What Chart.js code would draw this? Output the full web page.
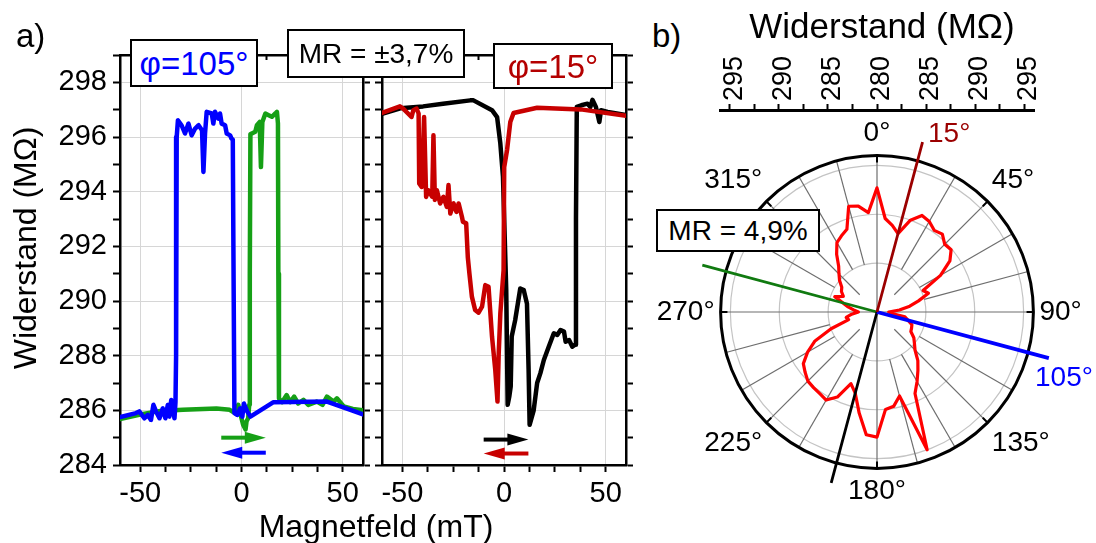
<!DOCTYPE html>
<html>
<head>
<meta charset="utf-8">
<script src="https://cdn.jsdelivr.net/npm/chart.js@4.4.1/dist/chart.umd.min.js"></script>
<style>
  html, body { margin: 0; padding: 0; overflow: hidden; background: #fff; }
  body { position: relative; width: 1096px; height: 543px; font-family: "Liberation Sans", Arial, sans-serif; color: #000; }
  canvas { position: absolute; }
  .txt { position: absolute; white-space: nowrap; line-height: 1; }
  .box { position: absolute; box-sizing: border-box; border: 2.5px solid #000; background: #fff; display: flex; align-items: center; justify-content: center; white-space: nowrap; line-height: 1; }
</style>
</head>
<body>
<canvas id="sweep-105" width="370" height="510" style="left:0;top:0"></canvas>
<canvas id="sweep-15" width="265" height="510" style="left:370px;top:0"></canvas>
<canvas id="polar-top" width="374" height="90" style="left:690px;top:40px"></canvas>
<canvas id="polar" width="530" height="393" style="left:612px;top:116px"></canvas>

<div class="txt" style="left:16px;top:19px;font-size:33px">a)</div>
<div class="txt" style="left:652px;top:19px;font-size:33px">b)</div>
<div class="txt" style="left:-125px;top:232px;width:300px;text-align:center;font-size:32px;transform:rotate(-90deg)">Widerstand (MΩ)</div>
<div class="txt" style="left:226px;top:510px;width:300px;text-align:center;font-size:32px">Magnetfeld (mT)</div>
<div class="txt" style="left:682px;top:8px;width:400px;text-align:center;font-size:35px">Widerstand (MΩ)</div>
<div class="txt" style="left:928px;top:119px;font-size:28px;color:#9b0000">15°</div>
<div class="txt" style="left:1035px;top:363px;font-size:28px;color:#0000ff">105°</div>

<div class="box" style="left:130px;top:39px;width:128px;height:48px;color:#0000ff;font-size:33px">φ=105°</div>
<div class="box" style="left:287px;top:29px;width:178px;height:49px;font-size:28px">MR = ±3,7%</div>
<div class="box" style="left:493px;top:43px;width:120px;height:46px;color:#b40000;font-size:33px">φ=15°</div>
<div class="box" style="left:656px;top:209px;width:164px;height:43px;font-size:28px">MR = 4,9%</div>

<script>
Chart.defaults.font.family = '"Liberation Sans", Arial, sans-serif';
Chart.defaults.color = '#000';

// phi = 105 deg, blue sweep + -> -, green sweep - -> +
const blueField = [60, 53.8, 42.2, 15.8, 4.4, 2.8, 1.2, 0.4, -0.7, -2.0, -3.5, -4.0, -4.3, -5.0, -5.6, -7.3, -8.1, -9.8, -10.6, -11.4, -13.1, -13.9, -14.7, -17.2, -18.0, -18.8, -19.5, -21.2, -22.9, -24.6, -26.2, -27.9, -29.6, -31.4, -32.0, -32.3, -32.6, -33.1, -34.7, -35.6, -36.4, -37.6, -38.9, -40.5, -42.2, -43.5, -44.7, -46.3, -48.0, -50.5, -52.1, -60];
const blueR = [285.85, 286.02, 286.32, 286.3, 285.77, 285.96, 286.25, 285.77, 286.07, 285.83, 285.9, 292.0, 295.9, 295.95, 296.06, 296.13, 296.43, 296.49, 296.86, 296.67, 296.92, 296.49, 296.86, 296.92, 296.13, 294.72, 296.25, 296.43, 296.31, 296.06, 296.49, 296.13, 296.43, 296.61, 296.0, 288.0, 286.3, 285.71, 286.38, 285.77, 286.2, 285.71, 286.07, 285.71, 285.96, 286.2, 285.65, 285.83, 285.71, 285.96, 285.9, 285.75];
const greenField = [-60, -50, -40, -28.9, -12.4, -5.8, -3.3, -1.6, 0, 0.8, 2.0, 2.5, 3.3, 3.8, 4.1, 4.4, 5.1, 6.8, 7.6, 9.0, 9.6, 10.3, 11.8, 13.4, 15.0, 16.7, 17.5, 18.0, 18.2, 18.5, 20.0, 22.3, 24.0, 26.0, 28.0, 30.6, 33.0, 37.2, 40.0, 42.2, 45.5, 47.1, 50.5, 55.0, 60];
const greenR = [285.68, 285.85, 285.98, 286.02, 286.07, 286.02, 285.9, 286.2, 285.71, 285.47, 285.3, 285.6, 285.71, 286.2, 291.0, 296.1, 296.13, 296.19, 296.43, 296.55, 294.9, 296.55, 296.86, 296.8, 296.74, 296.86, 296.92, 296.5, 291.0, 286.44, 286.3, 286.56, 286.3, 286.5, 286.25, 286.38, 286.2, 286.32, 286.2, 286.5, 286.32, 286.44, 286.14, 286.05, 286.0];

// phi = 15 deg, black sweep - -> +, red sweep + -> -
const blackField = [-60, -51, -39.8, -30, -16.6, -15.0, -5.9, -3.4, -1.8, -0.5, 1.1, 1.8, 2.6, 3.3, 3.8, 5.5, 8.0, 9.7, 11.3, 12.1, 12.6, 14.6, 16.3, 17.9, 19.6, 22.0, 24.5, 26.2, 27.8, 29.5, 30.3, 32.0, 33.6, 35.0, 35.4, 35.8, 38.0, 41.1, 42.5, 43.5, 45.2, 46.9, 47.7, 51.0, 60];
const blackR = [296.85, 297.05, 297.12, 297.22, 297.34, 297.34, 296.98, 296.73, 295.76, 294.54, 290.4, 286.2, 286.5, 286.87, 288.7, 289.3, 290.46, 290.4, 289.9, 287.48, 285.47, 286.0, 287.0, 287.36, 287.84, 288.33, 288.82, 288.76, 288.94, 288.88, 288.51, 288.57, 288.33, 288.4, 293.0, 297.1, 297.16, 297.22, 297.1, 297.36, 297.1, 296.55, 296.98, 296.92, 296.8];
const redField = [60, 37.7, 16.3, 4.7, 3.1, 1.5, 0.1, -0.2, -1.8, -2.6, -3.2, -4.3, -5.9, -7.6, -9.2, -10.8, -12.5, -14.2, -15.8, -17.0, -17.8, -18.6, -20.2, -20.7, -22.3, -23.4, -24.8, -26.4, -27.3, -28.1, -29.8, -31.4, -33.0, -34.0, -34.7, -35.3, -37.2, -38.3, -39.3, -40.5, -41.7, -42.0, -43.0, -44.6, -45.5, -47.2, -49.6, -51.2, -60];
const redR = [296.78, 297.01, 297.07, 296.88, 296.55, 295.52, 294.9, 291.13, 289.55, 288.09, 286.32, 287.48, 288.7, 290.52, 290.58, 289.79, 289.57, 289.67, 290.16, 291.0, 291.6, 292.84, 292.9, 293.08, 293.57, 293.26, 293.57, 293.2, 294.24, 293.44, 293.81, 293.57, 294.05, 293.7, 296.06, 293.81, 294.05, 293.81, 296.73, 294.17, 294.3, 296.86, 297.04, 296.98, 296.73, 296.86, 297.04, 297.12, 296.88];

// angle dependence, 5 deg steps, 0 deg on top, clockwise
const polarAngles = [0, 5, 10, 15, 20, 25, 30, 35, 40, 45, 50, 55, 60, 65, 70, 75, 80, 85, 90, 95, 100, 105, 110, 115, 120, 125, 130, 135, 140, 145, 150, 155, 160, 165, 170, 175, 180, 185, 190, 195, 200, 205, 210, 215, 220, 225, 230, 235, 240, 245, 250, 255, 260, 265, 270, 275, 280, 285, 290, 295, 300, 305, 310, 315, 320, 325, 330, 335, 340, 345, 350, 355];
const polarR = [292.7, 289.6, 289.0, 288.3, 290.0, 290.9, 290.7, 290.2, 290.4, 289.8, 289.9, 289.1, 287.5, 285.2, 285.6, 284.4, 283.4, 282.3, 281.2, 281.4, 282.9, 283.3, 283.8, 283.9, 284.0, 284.6, 285.0, 285.5, 286.5, 287.3, 288.2, 289.2, 295.0, 288.9, 289.8, 290.0, 292.8, 292.6, 290.5, 288.6, 287.8, 289.6, 290.4, 290.2, 290.1, 290.0, 289.6, 289.2, 288.2, 287.0, 285.0, 283.0, 283.2, 282.6, 281.9, 282.4, 283.0, 283.6, 284.6, 283.8, 284.2, 284.4, 285.0, 285.5, 286.1, 287.2, 288.2, 288.6, 289.0, 291.2, 291.0, 290.2];

// marked field directions in the polar plot
const refAngles = [15, 105, 195, 285];
const refTips = [298.0, 298.2, 298.1, 298.5];
const refColors = ['#9b0000', '#0000ff', '#000000', '#107a10'];
const refWidths = [2.8, 3.8, 2.8, 2.8];

const toPoints = (xs, ys) => xs.map((x, i) => ({ x: x, y: ys[i] }));

function fieldAxis(pos, showLabels, size) {
  return {
    type: 'linear', position: pos, min: -60, max: 60,
    border: { color: '#000', width: 2.5 },
    grid: {
      drawOnChartArea: pos === 'bottom',
      color: c => (c.tick && c.tick.value % 50 === 0) ? '#d6d6d6' : 'rgba(0,0,0,0)',
      tickColor: '#000', tickWidth: 2, tickLength: pos === 'top' ? -5 : 7
    },
    ticks: {
      display: showLabels, stepSize: 12.5, includeBounds: false, autoSkip: false, maxRotation: 0,
      padding: 5, font: { size: 29 }, callback: v => (v % 50 === 0 ? v : '')
    },
    afterFit: s => { s.height = size; }
  };
}

function resAxis(pos, showLabels, size) {
  return {
    type: 'linear', position: pos, min: 284, max: 299,
    border: { color: '#000', width: 2.5 },
    grid: {
      drawOnChartArea: pos === 'left',
      color: c => (c.tick && c.tick.value % 2 === 0) ? '#d6d6d6' : 'rgba(0,0,0,0)',
      tickColor: '#000', tickWidth: 2, tickLength: 7
    },
    ticks: {
      display: showLabels, stepSize: 1, autoSkip: false, padding: 6,
      font: { size: 29 }, callback: v => (v % 2 === 0 ? v : '')
    },
    afterFit: s => { s.width = size; }
  };
}

// sweep direction arrows, given in axis units
function arrowPlugin(items) {
  return {
    id: 'sweepArrows',
    afterDatasetsDraw(chart) {
      const { ctx, scales } = chart;
      items.forEach(a => {
        const x0 = scales.x.getPixelForValue(a.from);
        const x1 = scales.x.getPixelForValue(a.to);
        const y = scales.y.getPixelForValue(a.level);
        const dir = Math.sign(x1 - x0);
        ctx.save();
        ctx.strokeStyle = a.color;
        ctx.fillStyle = a.color;
        ctx.lineWidth = 4;
        ctx.beginPath();
        ctx.moveTo(x0, y);
        ctx.lineTo(x1 - dir * 16, y);
        ctx.stroke();
        ctx.beginPath();
        ctx.moveTo(x1, y);
        ctx.lineTo(x1 - dir * 21, y - 6);
        ctx.lineTo(x1 - dir * 21, y + 6);
        ctx.closePath();
        ctx.fill();
        ctx.restore();
      });
    }
  };
}

function sweepChart(id, sets, showY, yWidth, rightWidth, arrows) {
  return new Chart(document.getElementById(id), {
    type: 'scatter',
    data: {
      datasets: sets.map(s => ({
        data: s.data, showLine: true, borderColor: s.color, borderWidth: 4.5,
        pointRadius: 0, borderJoinStyle: 'round', borderCapStyle: 'round'
      }))
    },
    options: {
      responsive: false, animation: false,
      layout: { padding: 0 },
      plugins: { legend: { display: false }, tooltip: { enabled: false } },
      scales: {
        x: fieldAxis('bottom', true, 45),
        x2: fieldAxis('top', false, 55),
        y: resAxis('left', showY, yWidth),
        y2: resAxis('right', false, rightWidth)
      }
    },
    plugins: [arrowPlugin(arrows)]
  });
}

sweepChart('sweep-105', [
  { data: toPoints(blueField, blueR), color: '#0000ff' },
  { data: toPoints(greenField, greenR), color: '#16a016' }
], true, 120, 7, [
  { from: -10, to: 12, level: 285.0, color: '#16a016' },
  { from: 12, to: -10, level: 284.45, color: '#0000ff' }
]);

sweepChart('sweep-15', [
  { data: toPoints(redField, redR), color: '#c80000' },
  { data: toPoints(blackField, blackR), color: '#000000' }
], false, 12, 9, [
  { from: -10, to: 12, level: 284.93, color: '#000000' },
  { from: 12, to: -10, level: 284.42, color: '#c80000' }
]);

// mirrored resistance axis above the polar plot
new Chart(document.getElementById('polar-top'), {
  type: 'scatter',
  data: { datasets: [] },
  options: {
    responsive: false, animation: false,
    layout: { padding: { left: 30, right: 30, top: 0, bottom: 0 } },
    plugins: { legend: { display: false }, tooltip: { enabled: false } },
    scales: {
      x: {
        type: 'linear', position: 'top', min: -16, max: 16,
        border: { color: '#000', width: 3 },
        grid: { drawOnChartArea: false, tickColor: '#000', tickWidth: 2, tickLength: 6 },
        ticks: {
          stepSize: 2.5, includeBounds: false, autoSkip: false, minRotation: 90, maxRotation: 90,
          padding: 3, labelOffset: 37, font: { size: 27 },
          callback: v => (v % 5 === 0 ? 280 + Math.abs(v) : '')
        },
        afterFit: s => { s.height = 70; }
      },
      y: { display: false }
    }
  }
});

// spokes, outer ring and ring ticks of the polar plot
const polarFrame = {
  id: 'polarFrame',
  beforeDatasetsDraw(chart) {
    const r = chart.scales.r;
    const ctx = chart.ctx;
    ctx.save();
    ctx.strokeStyle = '#6e6e6e';
    ctx.lineWidth = 1.2;
    polarAngles.forEach((a, i) => {
      if (a % 15 !== 0) return;
      const inner = a % 90 === 0 ? 280 : (a % 45 === 0 ? 282.5 : 285);
      const p0 = r.getPointPositionForValue(i, inner);
      const p1 = r.getPointPositionForValue(i, 296);
      ctx.beginPath();
      ctx.moveTo(p0.x, p0.y);
      ctx.lineTo(p1.x, p1.y);
      ctx.stroke();
    });
    ctx.strokeStyle = '#000';
    ctx.lineWidth = 3;
    ctx.beginPath();
    ctx.arc(r.xCenter, r.yCenter, r.getDistanceFromCenterForValue(296), 0, Math.PI * 2);
    ctx.stroke();
    ctx.lineWidth = 2;
    polarAngles.forEach((a, i) => {
      if (a % 45 !== 0) return;
      const p0 = r.getPointPositionForValue(i, 295.3);
      const p1 = r.getPointPositionForValue(i, 296);
      ctx.beginPath();
      ctx.moveTo(p0.x, p0.y);
      ctx.lineTo(p1.x, p1.y);
      ctx.stroke();
    });
    ctx.restore();
  }
};

const refSets = refAngles.map((a, k) => {
  const d = polarAngles.map(() => null);
  d[polarAngles.indexOf(a)] = refTips[k];
  d[polarAngles.indexOf((a + 180) % 360)] = 280;
  return {
    data: d, borderColor: refColors[k], borderWidth: refWidths[k], pointRadius: 0,
    spanGaps: true, fill: false, clip: false
  };
});

new Chart(document.getElementById('polar'), {
  type: 'radar',
  data: {
    labels: polarAngles.map(a => a + '°'),
    datasets: refSets.concat([{
      data: polarR, borderColor: '#ff0000', borderWidth: 3.2, pointRadius: 0,
      fill: false, tension: 0, clip: false, borderJoinStyle: 'round'
    }])
  },
  options: {
    responsive: false, animation: false,
    plugins: { legend: { display: false }, tooltip: { enabled: false } },
    scales: {
      r: {
        min: 280, max: 296,
        ticks: { display: false, stepSize: 5, includeBounds: false },
        grid: { circular: true, color: '#c4c4c4', lineWidth: 1.2 },
        angleLines: { display: false },
        pointLabels: {
          font: { size: 28 }, color: '#000', padding: 6,
          callback: (label, i) => (polarAngles[i] % 45 === 0 ? label : '')
        }
      }
    }
  },
  plugins: [polarFrame]
});
</script>
</body>
</html>
